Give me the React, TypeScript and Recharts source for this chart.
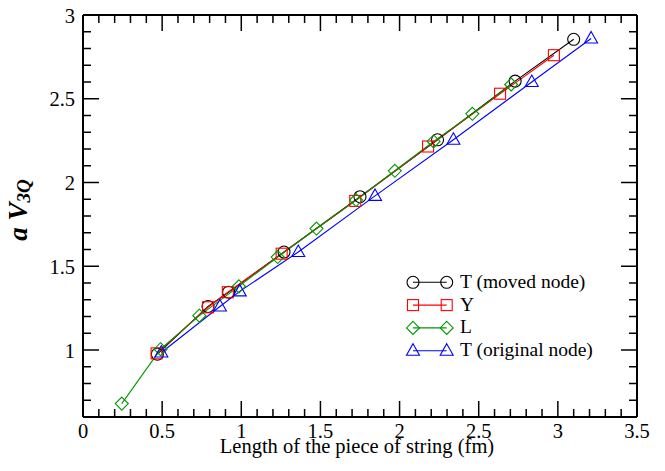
import React from 'react';
import { ComposedChart, Line, XAxis, YAxis, Legend } from 'recharts';

// ---- data ----
const T_MOVED_X = [0.47, 0.79, 0.92, 1.27, 1.75, 2.24, 2.73, 3.1];
const T_MOVED_Y = [0.975, 1.26, 1.345, 1.585, 1.915, 2.255, 2.605, 2.855];

const Y_X = [0.465, 0.79, 0.915, 1.255, 1.72, 2.18, 2.635, 2.975];
const Y_Y = [0.98, 1.255, 1.345, 1.575, 1.89, 2.215, 2.53, 2.76];

const L_X = [0.245, 0.49, 0.735, 0.985, 1.23, 1.475, 1.725, 1.97, 2.215, 2.46, 2.705];
const L_Y = [0.68, 1.005, 1.205, 1.38, 1.555, 1.725, 1.895, 2.07, 2.245, 2.41, 2.585];

const T_ORIG_X = [0.495, 0.865, 0.99, 1.36, 1.845, 2.34, 2.835, 3.21];
const T_ORIG_Y = [0.985, 1.26, 1.35, 1.585, 1.92, 2.255, 2.6, 2.86];

const X_MAJOR = [0, 0.5, 1, 1.5, 2, 2.5, 3, 3.5];
const X_LABELS = ['0', '0.5', '1', '1.5', '2', '2.5', '3', '3.5'];
const Y_MAJOR = [1, 1.5, 2, 2.5, 3];
const Y_LABELS = ['1', '1.5', '2', '2.5', '3'];

const X_TITLE = 'Length of the piece of string (fm)';

const SERIES_NAMES = ['T (moved node)', 'Y', 'L', 'T (original node)'];
const SERIES_COLORS = ['#000000', '#ff0000', '#009600', '#0000ff'];
const SERIES_SHAPES = ['circle', 'square', 'diamond', 'triangle'];

const toPoints = (xs: number[], ys: number[]) => xs.map((x, i) => ({ x, y: ys[i] }));
const SERIES_DATA = [
  toPoints(T_MOVED_X, T_MOVED_Y),
  toPoints(Y_X, Y_Y),
  toPoints(L_X, L_Y),
  toPoints(T_ORIG_X, T_ORIG_Y),
];

// minor ticks every 0.1
const minorTicks = (lo: number, hi: number) => {
  const out: number[] = [];
  for (let i = Math.round(lo * 10); i <= Math.round(hi * 10); i++) out.push(i / 10);
  return out;
};
const X_TICKS = minorTicks(0, 3.5);
const Y_TICKS = minorTicks(0.6, 3);

const FONT = 'Liberation Serif';

const isMajor = (v: number, majors: number[]) => majors.some((m) => Math.abs(m - v) < 1e-6);
const labelOf = (v: number, majors: number[], labels: string[]) => {
  const i = majors.findIndex((m) => Math.abs(m - v) < 1e-6);
  return i >= 0 ? labels[i] : '';
};

const Marker = ({ shape, cx, cy, color }: any) => {
  if (cx == null || cy == null) return null;
  const common = { fill: 'none', stroke: color, strokeWidth: 1.1 };
  if (shape === 'circle') return <circle cx={cx} cy={cy} r={6} {...common} />;
  if (shape === 'square') return <rect x={cx - 5.5} y={cy - 5.5} width={11} height={11} {...common} />;
  if (shape === 'diamond')
    return <polygon points={`${cx},${cy - 6.5} ${cx + 6.5},${cy} ${cx},${cy + 6.5} ${cx - 6.5},${cy}`} {...common} />;
  return <polygon points={`${cx},${cy - 7} ${cx + 6.5},${cy + 4.5} ${cx - 6.5},${cy + 4.5}`} {...common} />;
};

const makeDot = (shape: string, color: string) => (props: any) => (
  <Marker key={`${shape}-${props.index}`} shape={shape} cx={props.cx} cy={props.cy} color={color} />
);

const BottomTick = (props: any) => {
  const { x, y, payload } = props;
  const v = payload.value;
  const maj = isMajor(v, X_MAJOR);
  return (
    <g>
      <line x1={x} y1={y} x2={x} y2={y - (maj ? 16 : 8)} stroke="#000" strokeWidth={1.5} />
      {maj && (
        <text x={x} y={y + 21} textAnchor="middle" fontFamily={FONT} fontSize={20.5} fill="#000">
          {labelOf(v, X_MAJOR, X_LABELS)}
        </text>
      )}
    </g>
  );
};

const TopTick = (props: any) => {
  const { x, y, payload } = props;
  const maj = isMajor(payload.value, X_MAJOR);
  return <line x1={x} y1={y} x2={x} y2={y + (maj ? 16 : 8)} stroke="#000" strokeWidth={1.5} />;
};

const LeftTick = (props: any) => {
  const { x, y, payload } = props;
  const v = payload.value;
  const maj = isMajor(v, Y_MAJOR);
  return (
    <g>
      <line x1={x} y1={y} x2={x + (maj ? 16 : 8)} y2={y} stroke="#000" strokeWidth={1.5} />
      {maj && (
        <text x={x - 8} y={y + 7.5} textAnchor="end" fontFamily={FONT} fontSize={20.5} fill="#000">
          {labelOf(v, Y_MAJOR, Y_LABELS)}
        </text>
      )}
    </g>
  );
};

const RightTick = (props: any) => {
  const { x, y, payload } = props;
  const maj = isMajor(payload.value, Y_MAJOR);
  return <line x1={x} y1={y} x2={x - (maj ? 16 : 8)} y2={y} stroke="#000" strokeWidth={1.5} />;
};

const LegendContent = () => (
  <svg width={250} height={100} style={{ display: 'block' }}>
    {SERIES_NAMES.map((name, i) => {
      const y = 14.3 + i * 22.8;
      return (
        <g key={name}>
          <line x1={8} y1={y} x2={41.7} y2={y} stroke={SERIES_COLORS[i]} strokeWidth={1.1} />
          <Marker shape={SERIES_SHAPES[i]} cx={8} cy={y} color={SERIES_COLORS[i]} />
          <Marker shape={SERIES_SHAPES[i]} cx={41.7} cy={y} color={SERIES_COLORS[i]} />
          <text x={55} y={y + 5.5} fontFamily={FONT} fontSize={19.5} fill="#000">
            {name}
          </text>
        </g>
      );
    })}
  </svg>
);

const YLabel = () => (
  <text
    x={27}
    y={210}
    transform="rotate(-90, 27, 210)"
    textAnchor="middle"
    fontFamily={FONT}
    fontWeight="bold"
    fontStyle="italic"
    fontSize={27}
    fill="#000"
  >
    a V
    <tspan fontSize={19} dy={3}>
      3Q
    </tspan>
  </text>
);

const XLabel = () => (
  <text x={357} y={453} textAnchor="middle" fontFamily={FONT} fontSize={20.5} fill="#000">
    {X_TITLE}
  </text>
);

export default function App() {
  return (
    <div style={{ position: 'absolute', left: 0, top: 0, width: 665, height: 471, background: '#fff' }}>
      <ComposedChart width={665} height={471} margin={{ top: 0, right: 0, bottom: 0, left: 0 }}>
        <XAxis
          xAxisId="b"
          type="number"
          dataKey="x"
          orientation="bottom"
          domain={[0, 3.5]}
          ticks={X_TICKS}
          interval={0}
          height={54}
          tickSize={0}
          tickMargin={0}
          tickLine={false}
          tick={<BottomTick />}
          axisLine={{ stroke: '#000', strokeWidth: 2 }}
          allowDataOverflow
          label={<XLabel />}
        />
        <XAxis
          xAxisId="t"
          type="number"
          dataKey="x"
          orientation="top"
          domain={[0, 3.5]}
          ticks={X_TICKS}
          interval={0}
          height={15}
          tickSize={0}
          tickMargin={0}
          tickLine={false}
          tick={<TopTick />}
          axisLine={{ stroke: '#000', strokeWidth: 2 }}
          allowDataOverflow
        />
        <YAxis
          yAxisId="l"
          type="number"
          orientation="left"
          domain={[0.6, 3]}
          ticks={Y_TICKS}
          interval={0}
          width={83}
          tickSize={0}
          tickMargin={0}
          tickLine={false}
          tick={<LeftTick />}
          axisLine={{ stroke: '#000', strokeWidth: 2 }}
          allowDataOverflow
          label={<YLabel />}
        />
        <YAxis
          yAxisId="r"
          type="number"
          orientation="right"
          domain={[0.6, 3]}
          ticks={Y_TICKS}
          interval={0}
          width={28}
          tickSize={0}
          tickMargin={0}
          tickLine={false}
          tick={<RightTick />}
          axisLine={{ stroke: '#000', strokeWidth: 2 }}
          allowDataOverflow
        />
        {SERIES_DATA.map((data, i) => (
          <Line
            key={SERIES_NAMES[i]}
            name={SERIES_NAMES[i]}
            data={data}
            dataKey="y"
            xAxisId="b"
            yAxisId="l"
            type="linear"
            stroke={SERIES_COLORS[i]}
            strokeWidth={1.1}
            dot={makeDot(SERIES_SHAPES[i], SERIES_COLORS[i])}
            activeDot={false}
            isAnimationActive={false}
          />
        ))}
        <Legend
          layout="horizontal"
          verticalAlign="middle"
          align="center"
          content={<LegendContent />}
          wrapperStyle={{ left: 405, top: 268, width: 250, height: 100 }}
        />
      </ComposedChart>
    </div>
  );
}
